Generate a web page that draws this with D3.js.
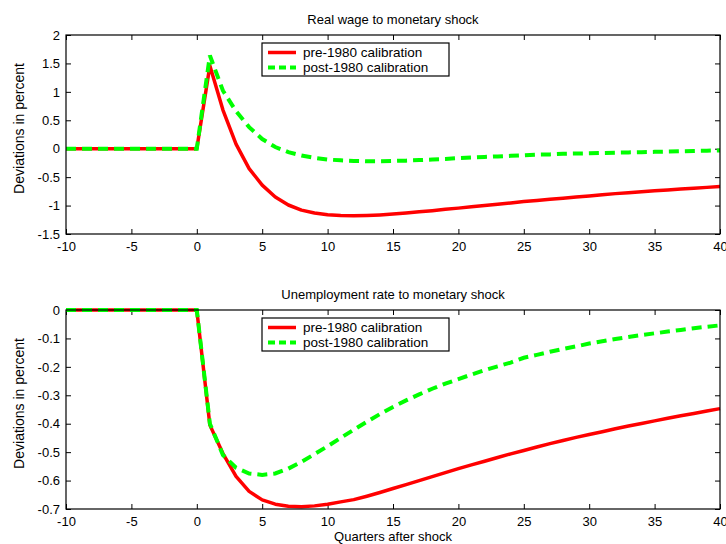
<!DOCTYPE html>
<html>
<head>
<meta charset="utf-8">
<script src="https://cdn.jsdelivr.net/npm/d3@7"></script>
<style>
  body { margin: 0; background: #fff; }
  svg { display: block; font-family: "Liberation Sans", Arial, sans-serif; }
</style>
</head>
<body>
<div id="chart"></div>
<script>
// quarters after the shock
const quarters = [-10, -9, -8, -7, -6, -5, -4, -3, -2, -1,
  0, 1, 2, 3, 4, 5, 6, 7, 8, 9, 10, 11, 12, 13, 14, 15, 16, 17, 18, 19, 20,
  21, 22, 23, 24, 25, 26, 27, 28, 29, 30, 31, 32, 33, 34, 35, 36, 37, 38, 39, 40];

// real wage response
const wagePre = [0, 0, 0, 0, 0, 0, 0, 0, 0, 0,
  0, 1.46, 0.68, 0.08, -0.35, -0.64, -0.85, -0.99, -1.08, -1.13, -1.16,
  -1.175, -1.18, -1.175, -1.165, -1.15, -1.13, -1.11, -1.09, -1.065, -1.045,
  -1.02, -1.0, -0.975, -0.955, -0.93, -0.91, -0.89, -0.87, -0.85, -0.83,
  -0.81, -0.79, -0.775, -0.755, -0.74, -0.725, -0.71, -0.695, -0.68, -0.665];
const wagePost = [0, 0, 0, 0, 0, 0, 0, 0, 0, 0,
  0, 1.64, 1.02, 0.66, 0.38, 0.17, 0.03, -0.06, -0.12, -0.16, -0.19,
  -0.205, -0.215, -0.22, -0.22, -0.215, -0.21, -0.2, -0.19, -0.18, -0.165,
  -0.155, -0.145, -0.135, -0.125, -0.115, -0.105, -0.1, -0.09, -0.085, -0.08,
  -0.075, -0.07, -0.065, -0.06, -0.055, -0.05, -0.045, -0.04, -0.035, -0.03];

// unemployment rate response
const unempPre = [0, 0, 0, 0, 0, 0, 0, 0, 0, 0,
  0, -0.405, -0.505, -0.585, -0.638, -0.668, -0.683, -0.69, -0.692, -0.689, -0.683,
  -0.675, -0.667, -0.655, -0.642, -0.628, -0.614, -0.6, -0.586, -0.572, -0.558,
  -0.545, -0.532, -0.519, -0.506, -0.494, -0.482, -0.47, -0.459, -0.448, -0.438,
  -0.428, -0.418, -0.408, -0.399, -0.39, -0.381, -0.372, -0.364, -0.355, -0.347];
const unempPost = [0, 0, 0, 0, 0, 0, 0, 0, 0, 0,
  0, -0.40, -0.51, -0.555, -0.575, -0.58, -0.575, -0.558, -0.534, -0.507, -0.479,
  -0.45, -0.421, -0.393, -0.366, -0.341, -0.318, -0.297, -0.277, -0.259, -0.243,
  -0.227, -0.212, -0.198, -0.185, -0.168, -0.158, -0.147, -0.137, -0.128, -0.118,
  -0.11, -0.102, -0.095, -0.088, -0.082, -0.076, -0.07, -0.064, -0.059, -0.054];

const xTicks = [-10, -5, 0, 5, 10, 15, 20, 25, 30, 35, 40];
const wageTicks = [-1.5, -1, -0.5, 0, 0.5, 1, 1.5, 2];
const unempTicks = [-0.7, -0.6, -0.5, -0.4, -0.3, -0.2, -0.1, 0];
const seriesNames = ["pre-1980 calibration", "post-1980 calibration"];

const width = 726, height = 544;
const left = 66, right = 720;

const svg = d3.select("#chart").append("svg")
  .attr("width", width)
  .attr("height", height);

const x = d3.scaleLinear().domain([-10, 40]).range([left, right]);

function panel(opts) {
  const y = d3.scaleLinear().domain(opts.domain).range([opts.bottom, opts.top]);
  const g = svg.append("g");

  const tick = 5;
  // bottom axis with labels
  const xb = g.append("g").attr("transform", `translate(0,${opts.bottom})`)
    .call(d3.axisBottom(x).tickValues(xTicks).tickSizeInner(-tick).tickSizeOuter(0)
      .tickPadding(8).tickFormat(d => String(d)));
  // top axis, ticks only
  g.append("g").attr("transform", `translate(0,${opts.top})`)
    .call(d3.axisTop(x).tickValues(xTicks).tickSizeInner(-tick).tickSizeOuter(0).tickFormat(""));
  // left axis with labels
  const yl = g.append("g").attr("transform", `translate(${left},0)`)
    .call(d3.axisLeft(y).tickValues(opts.ticks).tickSizeInner(-tick).tickSizeOuter(0)
      .tickPadding(6).tickFormat(d => String(d)));
  // right axis, ticks only
  g.append("g").attr("transform", `translate(${right},0)`)
    .call(d3.axisRight(y).tickValues(opts.ticks).tickSizeInner(-tick).tickSizeOuter(0).tickFormat(""));

  g.selectAll(".domain").remove();
  g.selectAll(".tick line").attr("stroke", "#000");
  g.selectAll(".tick text").attr("fill", "#000").style("font-size", "13px");

  const line = d3.line().x((d, i) => x(quarters[i])).y(d => y(d));

  g.append("path").datum(opts.pre)
    .attr("d", line)
    .attr("fill", "none")
    .attr("stroke", "#ff0000")
    .attr("stroke-width", 3.5)
    .attr("stroke-linejoin", "round");

  g.append("path").datum(opts.post)
    .attr("d", line)
    .attr("fill", "none")
    .attr("stroke", "#00ff00")
    .attr("stroke-width", 4)
    .attr("stroke-dasharray", "10,6");

  // frame
  g.append("rect")
    .attr("x", left).attr("y", opts.top)
    .attr("width", right - left).attr("height", opts.bottom - opts.top)
    .attr("fill", "none").attr("stroke", "#000").attr("stroke-width", 1.2);

  // title
  g.append("text")
    .attr("x", (left + right) / 2).attr("y", opts.top - 11)
    .attr("text-anchor", "middle")
    .style("font-size", "13px")
    .text(opts.title);

  // y label
  g.append("text")
    .attr("transform", `translate(24,${(opts.top + opts.bottom) / 2 - 6}) rotate(-90)`)
    .attr("text-anchor", "middle")
    .style("font-size", "14px")
    .text("Deviations in percent");

  // legend
  const lg = g.append("g").attr("transform", `translate(${opts.legend[0]},${opts.legend[1]})`);
  lg.append("rect").attr("width", 187).attr("height", 33)
    .attr("fill", "#fff").attr("stroke", "#000").attr("stroke-width", 1.2);
  const rows = [
    { name: seriesNames[0], color: "#ff0000", dash: null, w: 3.5 },
    { name: seriesNames[1], color: "#00ff00", dash: "7,4", w: 4 }
  ];
  rows.forEach((r, i) => {
    const ry = 9.5 + i * 15;
    lg.append("line").attr("x1", 6).attr("x2", 34).attr("y1", ry).attr("y2", ry)
      .attr("stroke", r.color).attr("stroke-width", r.w)
      .attr("stroke-dasharray", r.dash);
    lg.append("text").attr("x", 41).attr("y", ry).attr("dy", "0.35em")
      .style("font-size", "13.5px").text(r.name);
  });
  return g;
}

panel({
  title: "Real wage to monetary shock",
  domain: [-1.5, 2], ticks: wageTicks, top: 35, bottom: 234,
  pre: wagePre, post: wagePost, legend: [262, 43]
});

panel({
  title: "Unemployment rate to monetary shock",
  domain: [-0.7, 0], ticks: unempTicks, top: 310, bottom: 509,
  pre: unempPre, post: unempPost, legend: [262, 318]
});

svg.append("text")
  .attr("x", (left + right) / 2).attr("y", 541)
  .attr("text-anchor", "middle")
  .style("font-size", "13px")
  .text("Quarters after shock");
</script>
</body>
</html>
